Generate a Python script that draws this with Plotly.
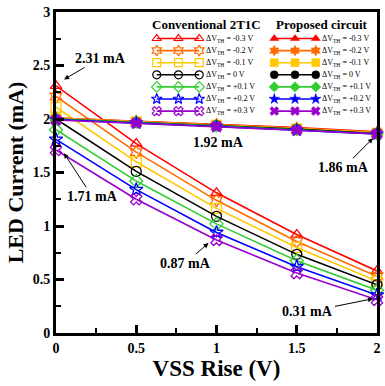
import plotly.graph_objects as go

vss_rise = [0, 0.5, 1, 1.5, 2]
dvth_labels = ["-0.3", "-0.2", "-0.1", "0", "+0.1", "+0.2", "+0.3"]
colors = ["#FF0000", "#FF6A00", "#FFC800", "#000000", "#33CC33", "#0000FF", "#9900CC"]
conv_symbols = ["triangle-up-open", "hexagram-open", "square-open", "circle-open",
                "diamond-open", "star-open", "x-open"]
prop_symbols = ["triangle-up", "hexagram", "square", "circle", "diamond", "star", "x"]

conv_m03 = [2.31, 1.77, 1.31, 0.92, 0.58]
conv_m02 = [2.21, 1.69, 1.24, 0.855, 0.53]
conv_m01 = [2.11, 1.60, 1.165, 0.80, 0.485]
conv_0 = [2.00, 1.51, 1.09, 0.735, 0.45]
conv_p01 = [1.90, 1.42, 1.02, 0.675, 0.40]
conv_p02 = [1.81, 1.34, 0.94, 0.62, 0.355]
conv_p03 = [1.71, 1.25, 0.87, 0.56, 0.31]

prop_m03 = [2.01, 1.98, 1.95, 1.92, 1.88]
prop_m02 = [2.01, 1.98, 1.95, 1.915, 1.875]
prop_m01 = [2.005, 1.975, 1.945, 1.91, 1.87]
prop_0 = [2.00, 1.97, 1.94, 1.905, 1.865]
prop_p01 = [2.00, 1.97, 1.935, 1.90, 1.86]
prop_p02 = [1.995, 1.965, 1.93, 1.895, 1.86]
prop_p03 = [1.99, 1.96, 1.93, 1.895, 1.86]

conv = [conv_m03, conv_m02, conv_m01, conv_0, conv_p01, conv_p02, conv_p03]
prop = [prop_m03, prop_m02, prop_m01, prop_0, prop_p01, prop_p02, prop_p03]

FONT = "Liberation Serif"
fig = go.Figure()

for i in range(7):
    fig.add_trace(go.Scatter(x=vss_rise, y=conv[i], mode="lines+markers",
                             line=dict(color=colors[i], width=1.6),
                             marker=dict(symbol=conv_symbols[i], size=10, color=colors[i],
                                         line=dict(width=1.3, color=colors[i])),
                             cliponaxis=False, showlegend=False))
for i in range(7):
    fig.add_trace(go.Scatter(x=vss_rise, y=prop[i], mode="lines+markers",
                             line=dict(color=colors[i], width=1.6),
                             marker=dict(symbol=prop_symbols[i], size=10, color=colors[i],
                                         line=dict(width=0.5, color=colors[i])),
                             cliponaxis=False, showlegend=False))

# custom two-column legend on a helper axis whose units are window pixels
row0, rowgap = 38.5, 12.1
conv_lx = [158, 180, 201]
prop_lx = [277, 298, 319]
annotations = []
for i in range(7):
    yy = row0 + rowgap * i
    fig.add_trace(go.Scatter(x=conv_lx, y=[yy] * 3, xaxis="x2", yaxis="y2", mode="lines+markers",
                             line=dict(color=colors[i], width=1.6),
                             marker=dict(symbol=conv_symbols[i], size=8, color=colors[i],
                                         line=dict(width=1.2, color=colors[i])),
                             cliponaxis=False, showlegend=False, hoverinfo="skip"))
    fig.add_trace(go.Scatter(x=prop_lx, y=[yy] * 3, xaxis="x2", yaxis="y2", mode="lines+markers",
                             line=dict(color=colors[i], width=1.6),
                             marker=dict(symbol=prop_symbols[i], size=8, color=colors[i],
                                         line=dict(width=0.5, color=colors[i])),
                             cliponaxis=False, showlegend=False, hoverinfo="skip"))
    for xt in (206, 323):
        annotations.append(dict(x=xt, y=yy, xref="x2", yref="y2", xanchor="left", yanchor="middle",
                                text="ΔV<sub>TH</sub> = " + dvth_labels[i] + " V", showarrow=False,
                                font=dict(family=FONT, size=8, color="black")))

annotations.append(dict(x=208, y=24, xref="x2", yref="y2", text="<b>Conventional 2T1C</b>",
                        showarrow=False, font=dict(family=FONT, size=13, color="black")))
annotations.append(dict(x=325, y=24, xref="x2", yref="y2", text="<b>Proposed circuit</b>",
                        showarrow=False, font=dict(family=FONT, size=13, color="black")))

# value callouts
callouts = [
    ("2.31 mA", 0.05, 2.37, 36, -21),
    ("1.71 mA", 0.05, 1.68, 28, 43),
    ("1.86 mA", 1.975, 1.82, -29, 29),
    ("0.87 mA", 0.95, 0.84, -23, 20),
    ("0.31 mA", 1.975, 0.32, -65, 13),
]
for txt, xx, yy, ax, ay in callouts:
    annotations.append(dict(x=xx, y=yy, xref="x", yref="y", text="<b>" + txt + "</b>",
                            showarrow=True, ax=ax, ay=ay, arrowhead=2, arrowsize=1,
                            arrowwidth=1, arrowcolor="black", standoff=0,
                            font=dict(family=FONT, size=14, color="black")))
annotations.append(dict(x=1.01, y=1.78, xref="x", yref="y", text="<b>1.92 mA</b>",
                        showarrow=False, font=dict(family=FONT, size=14, color="black")))

axis_common = dict(showgrid=False, zeroline=False, showline=True, linecolor="black",
                   linewidth=3, mirror=True, ticks="inside", ticklen=8, tickwidth=2.5,
                   tickcolor="black",
                   tickfont=dict(family=FONT, size=14, color="black", weight="bold"))

fig.update_layout(
    width=385, height=386,
    margin=dict(l=56, r=4, t=12, b=53),
    plot_bgcolor="white", paper_bgcolor="white",
    xaxis=dict(range=[0, 2], dtick=0.5, tick0=0,
               minor=dict(dtick=0.25, ticks="inside", ticklen=5, tickwidth=2, tickcolor="black"),
               title=dict(text="VSS Rise (V)", standoff=6,
                          font=dict(family=FONT, size=23, color="black", weight="bold")),
               **axis_common),
    yaxis=dict(range=[0, 3], dtick=0.5, tick0=0,
               minor=dict(dtick=0.25, ticks="inside", ticklen=5, tickwidth=2, tickcolor="black"),
               title=dict(text="LED Current (mA)", standoff=4,
                          font=dict(family=FONT, size=22, color="black", weight="bold")),
               **axis_common),
    xaxis2=dict(overlaying="x", range=[56, 381], visible=False, fixedrange=True),
    yaxis2=dict(overlaying="y", range=[333, 12], visible=False, fixedrange=True),
    annotations=annotations,
    showlegend=False,
)

# remove the default page margin so the figure fills the window exactly
fig.write_html("out.html", config={"displayModeBar": False},
               post_script="document.body.style.margin='0';document.body.style.overflow='hidden';")
